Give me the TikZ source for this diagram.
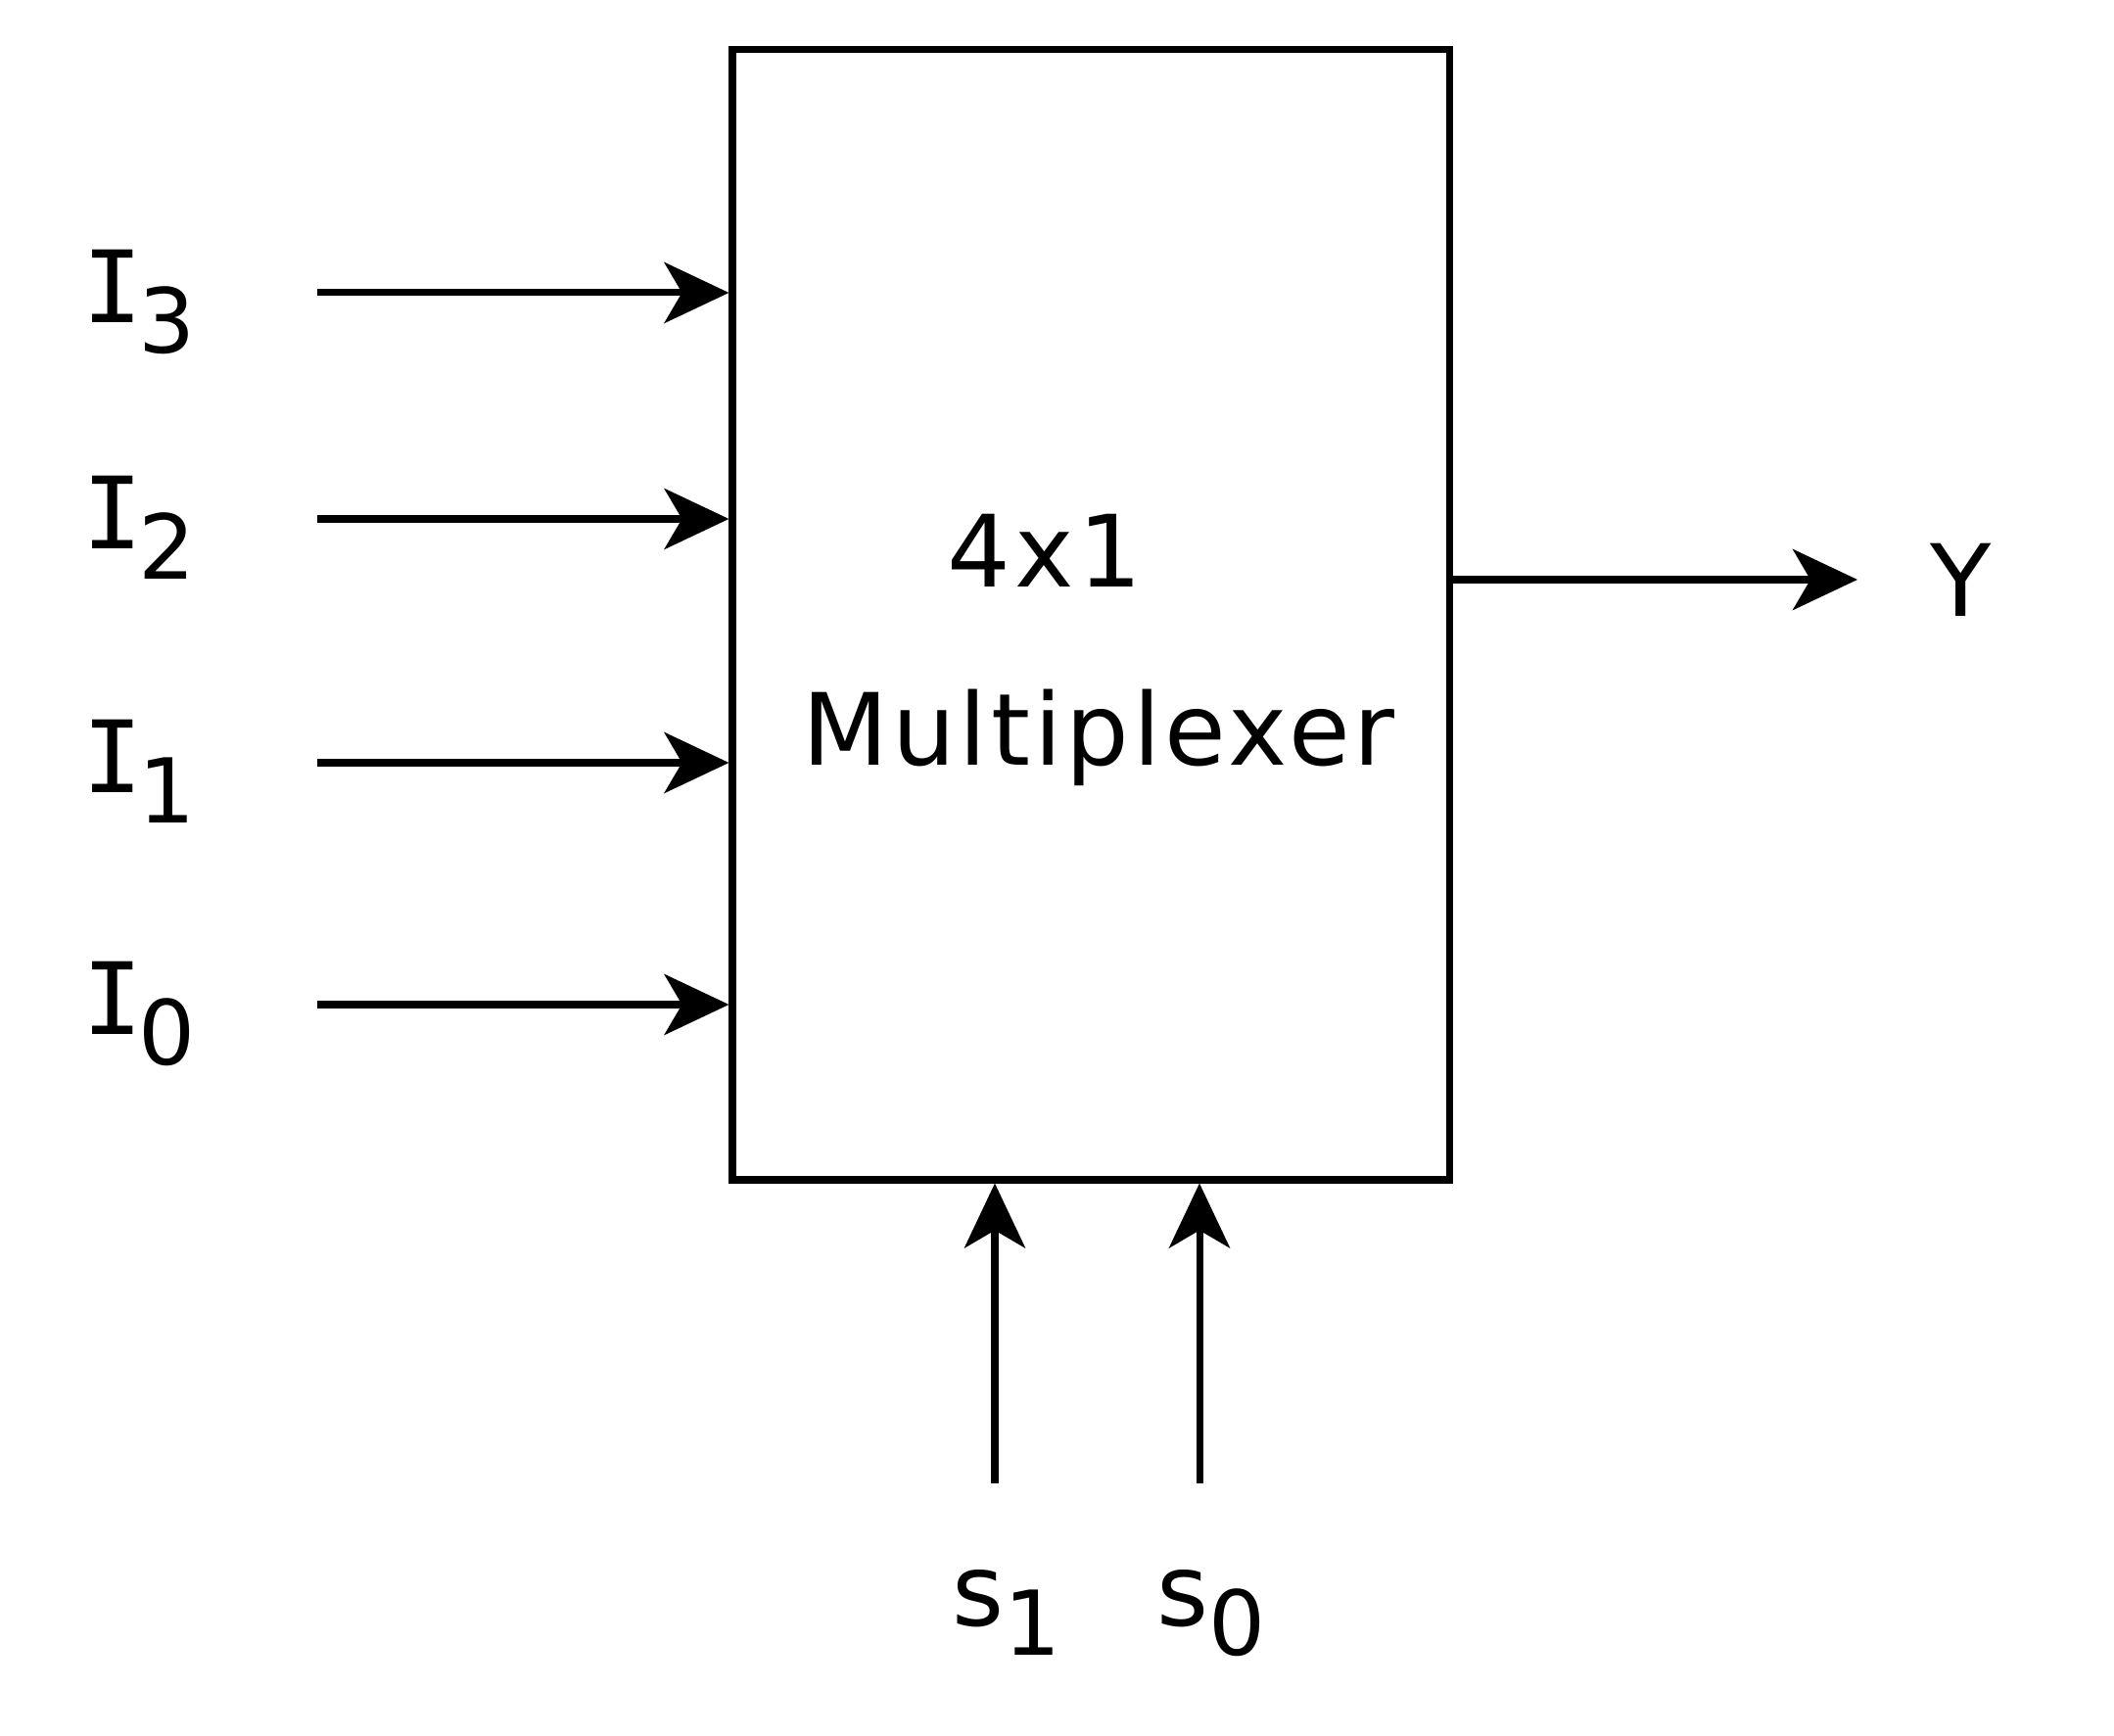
\documentclass[tikz,border=0pt]{standalone}
\usepackage{fontspec}
\setmainfont{DejaVu Sans}
\newfontfamily\barfont{DejaVu Sans Mono}
\usepackage{tikz}
\usetikzlibrary{arrows.meta, positioning, calc}
\tikzset{
  muxbox/.style={rectangle, draw=black, line width=2pt,
    minimum width=7.32cm, minimum height=11.54cm, inner sep=0pt},
  arrow/.style={-{Stealth[length=6.6mm, width=6.2mm, inset=1.8mm]}, line width=2pt, color=black},
  lbl/.style={font=\fontsize{29}{34}\selectfont, inner sep=0pt}
}
\newcommand{\lowsub}[1]{\raisebox{-0.3em}{\fontsize{26}{30}\selectfont #1}}

\begin{document}
\begin{tikzpicture}
  \useasboundingbox (0,0) rectangle (21.59,17.72);
  \node[muxbox] (mux) at (11.14,11.44) {};
  \node[lbl] (muxsize) at (10.67,12.10) {\addfontfeature{LetterSpace=4}4x1};
  \node[lbl, anchor=base] (muxname) at (11.22,9.90) {\addfontfeature{LetterSpace=4}Multiplexer};

  % data inputs
  \foreach \i/\y in {3/14.73, 2/12.42, 1/9.93, 0/7.46} {
    \coordinate (in\i) at (3.24,\y);
    \node[lbl, anchor=base west] (I\i) at (0.84,\y-0.31) {{\barfont I}\kern-0.04em\lowsub{\i}};
    \draw[arrow] (in\i) -- (in\i -| mux.west);
  }

  % output
  \coordinate (out) at (18.97,11.80);
  \draw[arrow] (out -| mux.east) -- (out);
  \node[lbl] (Y) at (20.03,11.80) {Y};

  % select lines
  \foreach \j/\x in {1/10.16, 0/12.25} {
    \coordinate (sel\j) at (\x,2.57);
    \node[lbl, anchor=base] (s\j) at (\x+0.12,1.12) {s\lowsub{\j}};
    \draw[arrow] (sel\j) -- (sel\j |- mux.south);
  }
\end{tikzpicture}
\end{document}
